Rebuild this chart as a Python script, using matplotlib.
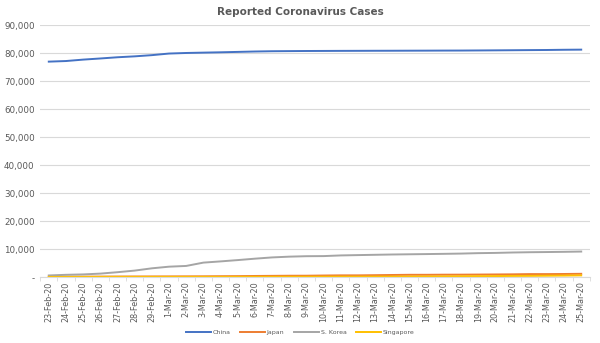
import matplotlib
matplotlib.use("Agg")
import matplotlib.pyplot as plt
from matplotlib.ticker import FuncFormatter

dates = [f"{d}-Feb-20" for d in range(23, 30)] + [f"{d}-Mar-20" for d in range(1, 26)]

china = [76936, 77150, 77658, 78064, 78497, 78824, 79251, 79824, 80026, 80151,
         80270, 80409, 80552, 80651, 80695, 80735, 80754, 80778, 80793, 80813,
         80824, 80844, 80860, 80881, 80894, 80928, 80967, 81008, 81054, 81093,
         81171, 81218]
japan = [147, 159, 170, 189, 214, 228, 241, 256, 274, 293,
         331, 360, 420, 461, 502, 511, 581, 639, 639, 701,
         773, 839, 839, 878, 889, 924, 963, 1007, 1086, 1086,
         1128, 1193]
korea = [602, 833, 977, 1261, 1766, 2337, 3150, 3736, 4000, 5186,
         5621, 6088, 6593, 7041, 7314, 7478, 7513, 7755, 7869, 7979,
         8086, 8162, 8236, 8320, 8413, 8565, 8652, 8799, 8897, 8961,
         9037, 9137]
singapore = [89, 89, 91, 93, 96, 98, 102, 106, 108, 110,
             110, 117, 130, 138, 150, 150, 160, 178, 178, 200,
             212, 226, 243, 266, 313, 345, 385, 432, 455, 509,
             558, 631]

series = [("China", china, "#4472C4"), ("Japan", japan, "#ED7D31"),
          ("S. Korea", korea, "#A5A5A5"), ("Singapore", singapore, "#FFC000")]

fig = plt.figure(figsize=(6, 3.43), dpi=100)
ax = fig.add_axes([0.067, 0.192, 0.916, 0.735])

x = list(range(len(dates)))
for name, vals, col in series:
    ax.plot(x, vals, color=col, lw=1.4, label=name)

ax.set_xlim(-0.5, len(dates) - 0.5)
ax.set_ylim(0, 90000)
ax.set_yticks(range(0, 90001, 10000))
ax.yaxis.set_major_formatter(FuncFormatter(lambda v, p: "-" if v == 0 else f"{int(v):,}"))
ax.set_xticks(x)
ax.set_xticklabels(dates, rotation=90, fontsize=5.8, color="#595959")
ax.tick_params(axis="y", labelsize=6.3, labelcolor="#595959", length=0, pad=4)
ax.tick_params(axis="x", length=0, pad=3)
ax.set_xticks([i - 0.5 for i in range(len(dates) + 1)], minor=True)
ax.tick_params(axis="x", which="minor", length=3, color="#D9D9D9")

ax.grid(axis="y", color="#D9D9D9", lw=0.8)
ax.set_axisbelow(True)
for s in ["top", "right", "left"]:
    ax.spines[s].set_visible(False)
ax.spines["bottom"].set_color("#D9D9D9")

fig.text(0.5, 0.965, "Reported Coronavirus Cases", ha="center", va="center",
         fontsize=7.5, fontweight="bold", color="#595959")

leg = fig.legend(loc="center", bbox_to_anchor=(0.5, 0.03), ncol=4, frameon=False,
                 fontsize=4.5, handlelength=4, columnspacing=1.5, handletextpad=0.3)
for t in leg.get_texts():
    t.set_color("#595959")

fig.savefig("out.png", dpi=100)
